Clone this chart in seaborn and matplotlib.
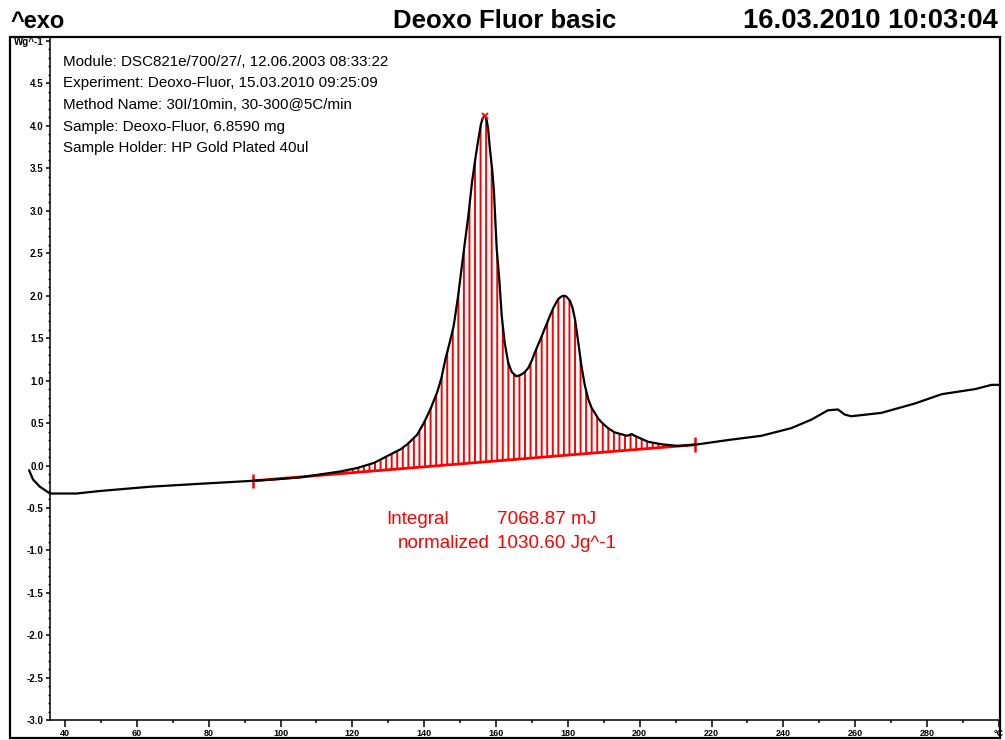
import numpy as np
import pandas as pd
import matplotlib
matplotlib.use("Agg")
import matplotlib.pyplot as plt
from matplotlib.patches import Rectangle
import seaborn as sns

# ---------------- data ----------------
temperature = [30.0, 31.1, 33.0, 35.8, 43.2, 49.8, 63.7, 77.7, 92.4, 98.1,
               105.5, 116.7, 121.3, 126.0, 130.6, 133.4, 135.3, 138.0, 139.9, 141.7,
               143.6, 144.8, 145.9, 147.0, 148.2, 149.4, 150.5, 151.4, 152.3, 153.3,
               154.2, 155.0, 155.8, 156.3, 156.8, 157.3, 157.8, 158.3, 158.9, 159.4,
               160.2, 160.9, 161.6, 162.4, 163.4, 164.4, 165.7, 167.0, 168.0, 169.0,
               170.0, 170.8, 172.5, 174.6, 176.0, 177.3, 178.2, 178.9, 179.6, 180.6,
               181.3, 182.0, 182.9, 183.8, 184.7, 185.7, 186.6, 187.5, 188.5, 189.6,
               191.2, 193.0, 196.5, 197.8, 198.6, 202.3, 206.1, 210.7, 215.5, 224.6,
               233.9, 242.2, 247.8, 252.4, 255.2, 257.1, 258.9, 267.3, 276.6, 284.1,
               293.4, 298.0, 300.3]
heat_flow = [-0.055, -0.165, -0.25, -0.33, -0.33, -0.30, -0.25, -0.215, -0.18, -0.165,
             -0.14, -0.07, -0.03, 0.03, 0.13, 0.19, 0.25, 0.36, 0.50, 0.66,
             0.86, 1.03, 1.25, 1.43, 1.64, 1.98, 2.35, 2.65, 2.94, 3.33,
             3.60, 3.82, 4.02, 4.09, 4.12, 4.09, 3.97, 3.73, 3.50, 3.25,
             2.55, 2.20, 1.76, 1.45, 1.21, 1.10, 1.05, 1.07, 1.10, 1.15,
             1.24, 1.33, 1.50, 1.72, 1.86, 1.96, 1.99, 2.00, 1.99, 1.94,
             1.86, 1.72, 1.45, 1.17, 0.95, 0.78, 0.68, 0.62, 0.55, 0.50,
             0.44, 0.39, 0.35, 0.37, 0.35, 0.28, 0.25, 0.23, 0.245, 0.30,
             0.35, 0.44, 0.54, 0.65, 0.66, 0.60, 0.58, 0.62, 0.73, 0.84,
             0.90, 0.95, 0.95]

baseline_T = [92.4, 215.5]
baseline_val = [-0.18, 0.245]
peak_T = [156.8]
peak_val = [4.12]

x_major = list(range(40, 301, 20))
x_labels = [str(v) for v in x_major[:-1]] + ["°C"]
y_major = [round(v, 1) for v in np.arange(-3.0, 5.01, 0.5)]
y_labels = [f"{v:.1f}" for v in y_major[:-1]] + ["Wg^-1"]

info_lines = ["Module: DSC821e/700/27/, 12.06.2003 08:33:22",
              "Experiment: Deoxo-Fluor, 15.03.2010 09:25:09",
              "Method Name: 30I/10min, 30-300@5C/min",
              "Sample: Deoxo-Fluor, 6.8590 mg",
              "Sample Holder: HP Gold Plated 40ul"]

# ---------------- style ----------------
sns.set_theme(style="white")
plt.rcParams["font.family"] = ["Liberation Sans", "DejaVu Sans"]
plt.rcParams["text.color"] = "black"
plt.rcParams["hatch.linewidth"] = 1.4
plt.rcParams["hatch.color"] = "red"

W, H = 1005, 740
fig = plt.figure(figsize=(W / 100, H / 100), dpi=100)
fig.patch.set_facecolor("white")

px_per_deg = 3.5917
x0 = 40 - 55 / px_per_deg
x1 = 40 + 935 / px_per_deg
zero_px, px_per_unit = 465.5, 84.9
y0 = (zero_px - 738) / px_per_unit
y1 = (zero_px - 37) / px_per_unit

ax = fig.add_axes([10 / W, (H - 738) / H, 990 / W, (738 - 37) / H])
ax.set_facecolor("white")
ax.set_xlim(x0, x1)
ax.set_ylim(y0, y1)

df = pd.DataFrame({"T": temperature, "HF": heat_flow})

# integration hatching between baseline and curve
T = np.array(temperature)
HF = np.array(heat_flow)
mask = (T >= baseline_T[0]) & (T <= baseline_T[1])
seg_T = T[mask]
seg_base = np.interp(seg_T, baseline_T, baseline_val)
ax.fill_between(seg_T, seg_base, HF[mask], facecolor="none", edgecolor="red",
                hatch="|||", linewidth=0, zorder=2)
ax.plot(baseline_T, baseline_val, color="red", lw=2.0, zorder=3)

# curve
sns.lineplot(data=df, x="T", y="HF", color="black", lw=1.6, ax=ax,
             estimator=None, sort=False, zorder=4)

# integration limit markers and peak marker
for bt, bv in zip(baseline_T, baseline_val):
    ax.vlines(bt, bv - 0.085, bv + 0.085, color="red", lw=1.8, zorder=3)
ax.plot(peak_T, peak_val, marker="x", color="red", ms=5, mew=1.3, ls="none", zorder=5)

# spines/axes styled like the instrument software
for s in ["top", "right"]:
    ax.spines[s].set_visible(False)
ax.spines["left"].set_position(("data", 35.8))
ax.spines["bottom"].set_position(("data", -3.0))
ax.spines["left"].set_bounds(-3.0, y1)
ax.spines["bottom"].set_bounds(35.8, x1)
for s in ["left", "bottom"]:
    ax.spines[s].set_color("black")
    ax.spines[s].set_linewidth(1.1)
ax.add_patch(Rectangle((0, 0), 1, 1, transform=ax.transAxes, fill=False,
                       edgecolor="black", lw=1.6, clip_on=False, zorder=10))

ax.set_xticks(x_major)
ax.set_xticklabels(x_labels, fontsize=6.5, fontweight="bold")
ax.set_xticks(list(range(50, 300, 20)), minor=True)
ax.set_yticks(y_major)
ax.set_yticklabels(y_labels, fontsize=7, fontweight="bold")
ax.set_yticks([round(v, 1) for v in np.arange(-3.0, 5.01, 0.1)], minor=True)
ax.tick_params(axis="x", which="major", direction="out", length=5, width=1.1, pad=1, colors="black")
ax.tick_params(axis="x", which="minor", direction="out", length=2.5, width=1.1, colors="black")
ax.tick_params(axis="y", which="major", direction="out", length=3, width=1.1, pad=1.5, colors="black")
ax.tick_params(axis="y", which="minor", direction="out", length=1.8, width=1.0, colors="black")
ax.tick_params(which="both", bottom=True, left=True)
ax.set_xlabel("")
ax.set_ylabel("")
ax.grid(False)

# header texts
fig.text(10 / W, 1 - 28 / H, "^exo", fontsize=17, fontweight="bold", ha="left", va="baseline")
fig.text(505 / W, 1 - 28 / H, "Deoxo Fluor basic", fontsize=18.5, fontweight="bold",
         ha="center", va="baseline")
fig.text(998 / W, 1 - 28 / H, "16.03.2010 10:03:04", fontsize=19.7, fontweight="bold",
         ha="right", va="baseline")

# info block
for i, line in enumerate(info_lines):
    fig.text(63 / W, 1 - (62 + i * 21.5) / H, line, fontsize=10.9, ha="left", va="center",
             color="black")

# integral annotation
fig.text(386 / W, 1 - 520 / H, "Integral", fontsize=13.6, color="red", ha="left", va="center")
fig.text(497 / W, 1 - 520 / H, "7068.87 mJ", fontsize=13.6, color="red", ha="left", va="center")
fig.text(398 / W, 1 - 543 / H, "normalized", fontsize=13.6, color="red", ha="left", va="center")
fig.text(497 / W, 1 - 543 / H, "1030.60 Jg^-1", fontsize=13.6, color="red", ha="left", va="center")

fig.savefig("out.png", dpi=100, facecolor="white")
